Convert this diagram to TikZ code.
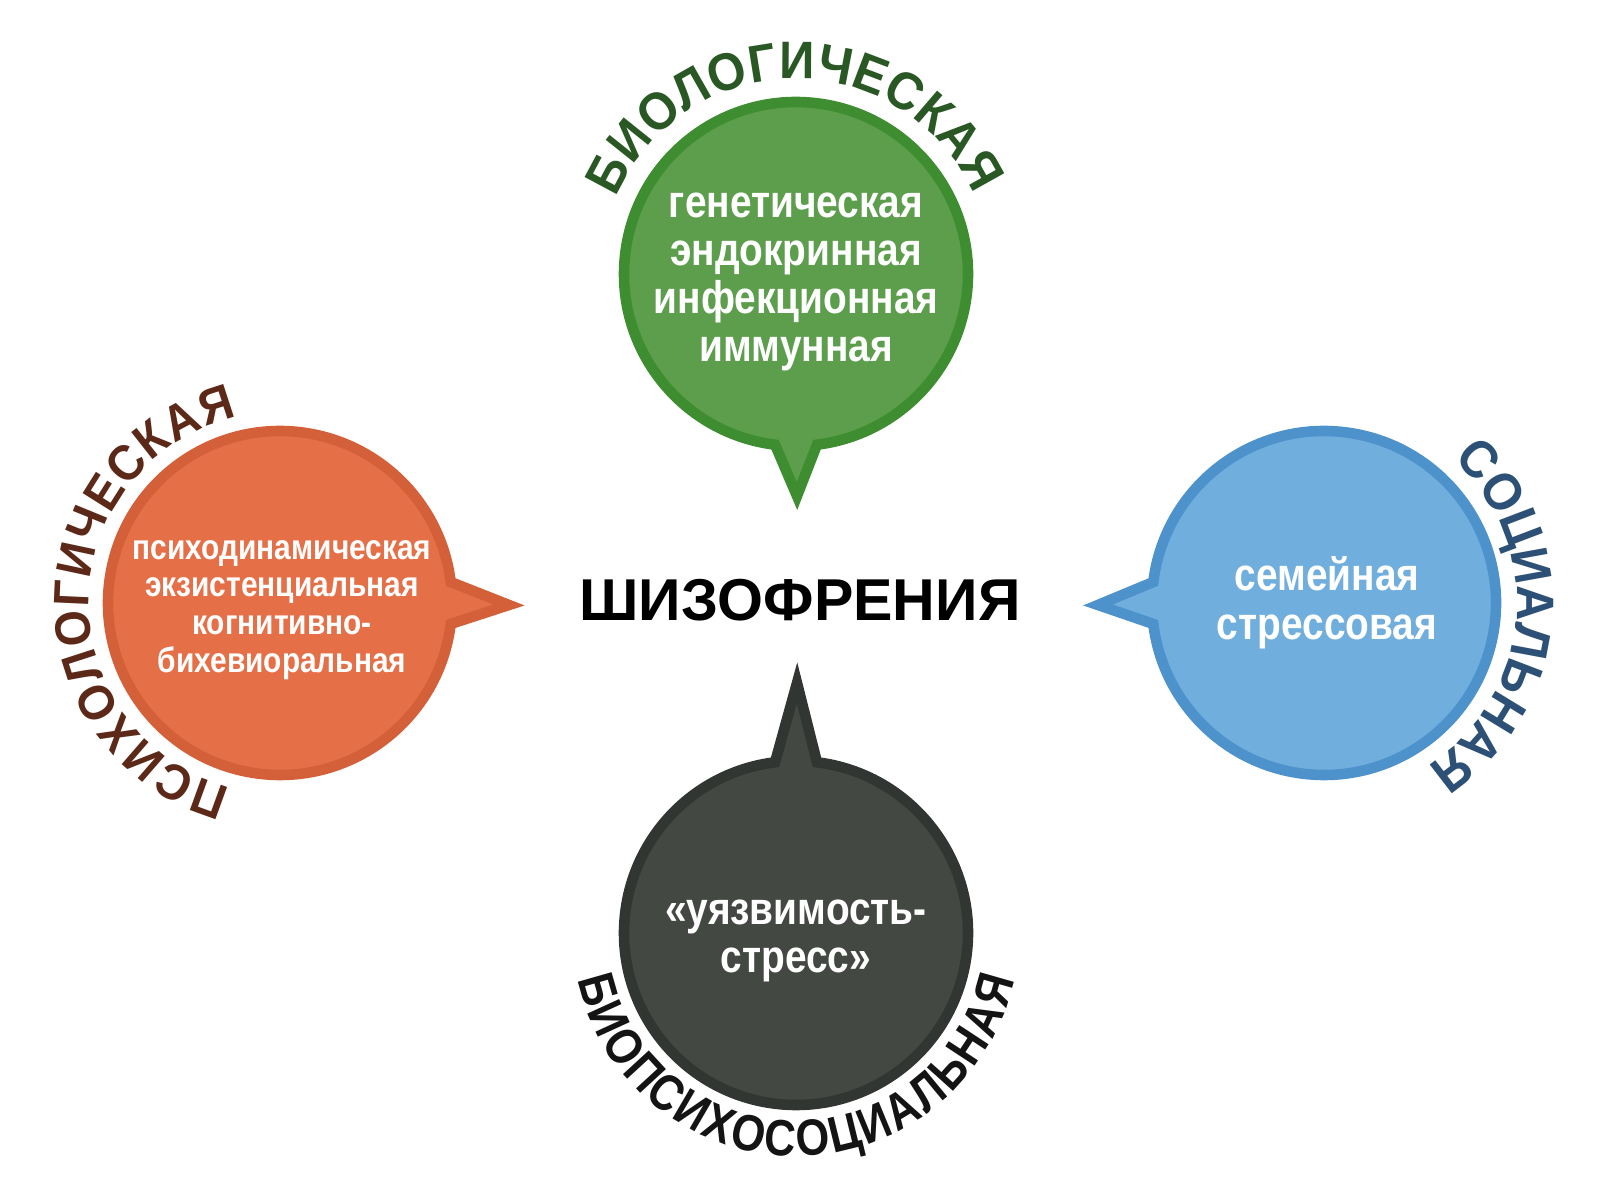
\documentclass[tikz,border=0pt]{standalone}
\usepackage{fontspec}
\setmainfont{Liberation Sans}
\newfontfamily\bubblefont[FakeStretch=0.85]{Liberation Sans}
\newfontfamily\arcfont[FakeStretch=0.93]{Liberation Sans}
\usetikzlibrary{calc}
\usetikzlibrary{decorations.text}
\definecolor{biofill}{RGB}{92,158,76}
\definecolor{bioline}{RGB}{62,141,48}
\definecolor{biotext}{RGB}{42,88,36}
\definecolor{psyfill}{RGB}{229,112,72}
\definecolor{psyline}{RGB}{212,96,58}
\definecolor{psytext}{RGB}{92,40,24}
\definecolor{socfill}{RGB}{112,174,221}
\definecolor{socline}{RGB}{78,146,204}
\definecolor{soctext}{RGB}{44,80,118}
\definecolor{bpsfill}{RGB}{67,72,66}
\definecolor{bpsline}{RGB}{50,54,50}
\definecolor{bpstext}{RGB}{20,20,20}
\newcommand{\labelfont}{\arcfont\bfseries\fontsize{15}{15}\selectfont}
\newcommand{\psylabelfont}{\arcfont\bfseries\fontsize{14.2}{14.2}\selectfont}
\newcommand{\bpslabelfont}{\bubblefont\bfseries\fontsize{14.5}{14.5}\selectfont}

\begin{document}
\begin{tikzpicture}[x=0.01cm, y=0.01cm]
\tikzstyle{bubble} = [line width=3pt]
\tikzstyle{inner} = [align=center, text=white, font=\bubblefont\bfseries\fontsize{13}{13.7}\selectfont]
\tikzstyle{curved} = [decorate, decoration={text along path, text align={fit to path}}]

\useasboundingbox (0,0) rectangle (1600,1200);

\coordinate (Cbio) at (796, 926);
\coordinate (Cpsy) at (280, 597);
\coordinate (Csoc) at (1324, 597);
\coordinate (Cbps) at (796, 267);
\coordinate (Tbio) at (797, 704);
\coordinate (Tpsy) at (509, 595);
\coordinate (Tsoc) at (1098, 595);
\coordinate (Tbps) at (797, 517);

% bubbles with tails
\draw[bubble, draw=bioline, fill=biofill] ($(Cbio)+(277:172)$) -- (Tbio) -- ($(Cbio)+(263:172)$)
  arc[start angle=263, end angle=-83, radius=172] -- cycle;
\draw[bubble, draw=psyline, fill=psyfill] ($(Cpsy)+(7:172)$) -- (Tpsy) -- ($(Cpsy)+(-7:172)$)
  arc[start angle=-7, end angle=-353, radius=172] -- cycle;
\draw[bubble, draw=socline, fill=socfill] ($(Csoc)+(187:172)$) -- (Tsoc) -- ($(Csoc)+(173:172)$)
  arc[start angle=173, end angle=-173, radius=172] -- cycle;
\draw[bubble, draw=bpsline, fill=bpsfill] ($(Cbps)+(97:172)$) -- (Tbps) -- ($(Cbps)+(83:172)$)
  arc[start angle=83, end angle=-263, radius=172] -- cycle;

% texts inside
\node[inner](bio) at (796, 918) {генетическая\\эндокринная\\инфекционная\\иммунная};
\node[inner, font=\bubblefont\bfseries\fontsize{10}{10.7}\selectfont](psy) at (282, 590)
  {психодинамическая\\экзистенциальная\\когнитивно-\\бихевиоральная};
\node[inner, font=\bubblefont\bfseries\fontsize{13}{14}\selectfont](soc) at (1327, 597) {семейная\\стрессовая};
\node[inner](bps) at (796, 259) {«уязвимость-\\стресс»};
\node[font=\bfseries\fontsize{16.8}{16.8}\selectfont](shiz) at (800, 600) {ШИЗОФРЕНИЯ};

% curved labels
\path[curved, decoration={text color=biotext, text={|\labelfont|БИОЛОГИЧЕСКАЯ}}]
  ($(Cbio)+(157:195)$) arc[start angle=157, end angle=24, radius=195];
\path[curved, decoration={text color=psytext, text={|\psylabelfont|ПСИХОЛОГИЧЕСКАЯ}}]
  ($(Cpsy)+(255:191)$) arc[start angle=255, end angle=103, radius=191];
\path[curved, decoration={text color=soctext, text={|\labelfont|СОЦИАЛЬНАЯ}}]
  ($(Csoc)+(48:193)$) arc[start angle=48, end angle=-55, radius=193];
\path[curved, decoration={text color=bpstext, text={|\bpslabelfont|БИОПСИХОСОЦИАЛЬНАЯ}}]
  ($(Cbps)+(192:223)$) arc[start angle=192, end angle=348, radius=223];
\end{tikzpicture}
\end{document}
